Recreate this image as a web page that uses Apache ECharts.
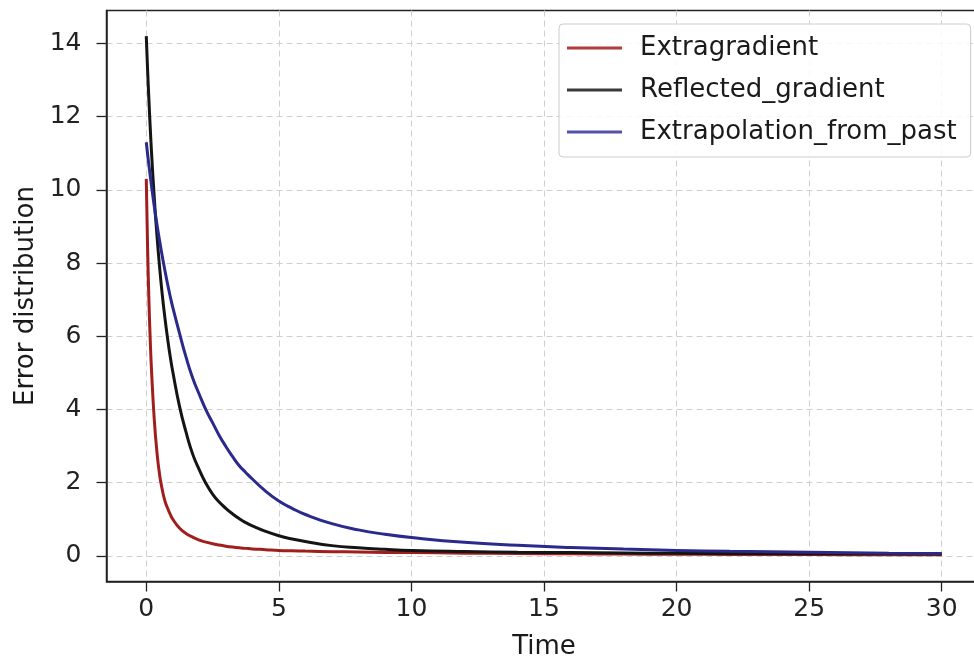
<!DOCTYPE html>
<html>
<head>
<meta charset="utf-8">
<script src="https://cdn.jsdelivr.net/npm/echarts@6/dist/echarts.min.js"></script>
<style>html,body{margin:0;padding:0;background:#fff}#c{width:974px;height:661px}</style>
</head>
<body>
<div id="c"></div>
<script>
const times = [0,0.05,0.1,0.15,0.2,0.3,0.4,0.5,0.6,0.7,0.8,0.9,1,1.25,1.5,1.75,2,2.25,2.5,2.75,3,3.25,3.5,3.75,4,4.5,5,5.5,6,7,8,9,10,12,14,16,18,20,22,25,28,30];
const extragradient = [10.3,8.4,6.98,5.89,5.04,3.74,2.85,2.23,1.82,1.51,1.31,1.14,1.0,0.76,0.61,0.51,0.43,0.375,0.33,0.295,0.265,0.24,0.22,0.205,0.19,0.17,0.15,0.14,0.13,0.115,0.105,0.095,0.09,0.075,0.065,0.055,0.05,0.045,0.04,0.035,0.03,0.028];
const reflected = [14.2,13.28,12.45,11.69,11.0,9.8,8.78,7.91,7.16,6.52,5.96,5.46,5.03,4.1,3.38,2.78,2.35,1.98,1.69,1.47,1.3,1.15,1.02,0.91,0.82,0.67,0.55,0.46,0.39,0.28,0.22,0.18,0.15,0.12,0.1,0.09,0.08,0.07,0.065,0.06,0.055,0.05];
const extrapolation = [11.3,10.98,10.67,10.38,10.1,9.56,9.07,8.62,8.2,7.81,7.44,7.1,6.79,6.09,5.43,4.86,4.41,3.99,3.64,3.29,2.99,2.72,2.47,2.28,2.1,1.77,1.5,1.3,1.13,0.88,0.71,0.59,0.5,0.37,0.29,0.23,0.185,0.15,0.125,0.1,0.075,0.065];
const seriesNames = ['Extragradient','Reflected_gradient','Extrapolation_from_past'];
const xTicks = [0,5,10,15,20,25,30];
const yTicks = [0,2,4,6,8,10,12,14];

const lineColors = ['#a11e1e','#141414','#2a2a8c'];
const legendColors = ['#b03c3c','#3a3a3a','#5252a6'];
const font = 'DejaVu Sans';
const pair = arr => times.map((t,i)=>[t,arr[i]]);
const dataSets = [extragradient, reflected, extrapolation];

const chart = echarts.init(document.getElementById('c'), null, {renderer:'canvas'});
chart.setOption({
  animation:false,
  backgroundColor:'#fff',
  grid:{left:106.5,top:10.5,width:875,height:571,outerBoundsMode:'none',containLabel:false,show:true,borderColor:'#222',borderWidth:1.5,backgroundColor:'transparent'},
  legend:{
    orient:'vertical', left:559, top:24,
    padding:[11,14,12,8], itemGap:16, itemWidth:55, itemHeight:3,
    backgroundColor:'rgba(255,255,255,0.85)', borderColor:'#cccccc', borderWidth:1, borderRadius:4,
    textStyle:{fontFamily:font,fontSize:26,color:'#1a1a1a',padding:[0,0,0,13],lineHeight:26},
    data: seriesNames.map((n,i)=>({name:n, icon:'rect', itemStyle:{color:legendColors[i],borderWidth:0}}))
  },
  xAxis:{
    type:'value', min:-1.5, max:31.5,
    name:'Time', nameLocation:'middle', nameGap:53,
    nameTextStyle:{fontFamily:font,fontSize:26,color:'#1a1a1a'},
    axisLine:{show:true,onZero:false,lineStyle:{color:'#222',width:1.5}},
    axisTick:{show:true,length:10,customValues:xTicks,lineStyle:{color:'#222',width:1.3}},
    axisLabel:{customValues:xTicks,margin:15,fontFamily:font,fontSize:25,color:'#222'},
    splitLine:{show:true,lineStyle:{color:'#cfcfcf',width:1,type:[6,4]}}
  },
  yAxis:{
    type:'value', min:-0.7, max:14.9,
    name:'Error distribution', nameLocation:'middle', nameGap:66,
    nameTextStyle:{fontFamily:font,fontSize:26,color:'#1a1a1a'},
    axisLine:{show:true,onZero:false,lineStyle:{color:'#222',width:1.5}},
    axisTick:{show:true,length:10,customValues:yTicks,lineStyle:{color:'#222',width:1.3}},
    axisLabel:{customValues:yTicks,margin:25,fontFamily:font,fontSize:25,color:'#222'},
    splitLine:{show:true,lineStyle:{color:'#cfcfcf',width:1,type:[6,4]}}
  },
  series: seriesNames.map((n,i)=>({
    name:n, type:'line', data:pair(dataSets[i]),
    showSymbol:false, symbol:'none', smooth:0.5,
    lineStyle:{color:lineColors[i],width:3},
    itemStyle:{color:lineColors[i]}
  }))
});
</script>
</body>
</html>
